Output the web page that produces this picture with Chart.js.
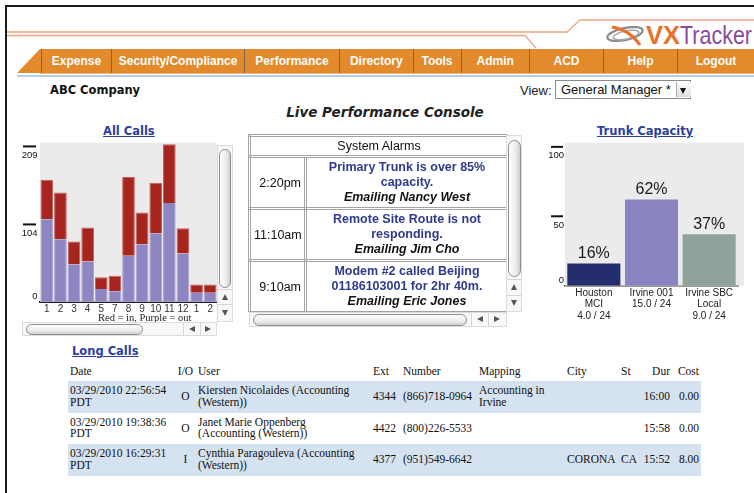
<!DOCTYPE html>
<html>
<head>
<meta charset="utf-8">
<script src="https://cdn.jsdelivr.net/npm/chart.js@4.4.1/dist/chart.umd.min.js"></script>
<style>
body{margin:0;width:754px;height:493px;overflow:hidden;background:#fff;position:relative;font-family:"Liberation Sans",Arial,sans-serif;color:#111}
.abs{position:absolute}
.nv{position:absolute;top:0;height:24px;line-height:24px;color:#fff;font-weight:bold;font-size:12px;text-align:center;border-left:1px solid #7d6450;box-sizing:border-box}
.lnk{position:absolute;font-family:"DejaVu Sans",Verdana,sans-serif;font-weight:bold;font-size:11.5px;color:#2b3f9e;text-decoration:underline;white-space:nowrap}
.track{position:absolute;background:#f8f8f8;border:1px solid #dcdcdc;box-sizing:border-box}
.thumbV,.thumbH{position:absolute;border:1px solid #8f8f8f;border-radius:7px;box-sizing:border-box}
.thumbV{background:linear-gradient(to right,#fff,#ececec 60%,#cfcfcf)}
.thumbH{background:linear-gradient(to bottom,#fff,#ececec 60%,#cfcfcf)}
.tri{position:absolute;width:0;height:0}
.up{border-left:3.5px solid transparent;border-right:3.5px solid transparent;border-bottom:6px solid #555}
.dn{border-left:3.5px solid transparent;border-right:3.5px solid transparent;border-top:6px solid #555}
.lt{border-top:3.5px solid transparent;border-bottom:3.5px solid transparent;border-right:6px solid #555}
.rt{border-top:3.5px solid transparent;border-bottom:3.5px solid transparent;border-left:6px solid #555}
.sep{position:absolute;background:#d6d6d6}
#alarms table{border-collapse:collapse;width:259px;table-layout:fixed;font-size:12.5px}
#alarms td{border:3px double #a4a4a4;padding:0 3px;background:#fff}
#alarms .tm{text-align:right}
#alarms .msg{text-align:center;line-height:15px;padding:0 1px}
#alarms .msg b{color:#2e3b8c}
#alarms .msg i{font-weight:bold;color:#111}
#long{font-family:"Liberation Serif","Times New Roman",serif;font-size:11.5px;line-height:11.5px;border-collapse:collapse;table-layout:fixed;width:633px;color:#111}
#long td{padding:0 2px;white-space:nowrap;vertical-align:middle}
#long tr.hd td{height:16px;vertical-align:bottom}
#long tr.r td{height:31.5px}
#long tr.b td{background:#d5e2ef}
</style>
</head>
<body>
<div class="abs" style="left:5px;top:5px;width:2px;height:488px;background:#1a1a1a"></div>
<div class="abs" style="left:5px;top:5px;width:749px;height:2px;background:#1a1a1a"></div>

<svg class="abs" style="left:0;top:0" width="754" height="80">
  <polyline points="7,32 567,32 580,20 754,20" fill="none" stroke="#eda784" stroke-width="1.3"/>
  <polyline points="7,35.5 525,35.5 536,48" fill="none" stroke="#eda784" stroke-width="1.3"/>
  <ellipse cx="625" cy="34" rx="18" ry="6" fill="none" stroke="#8a8a8a" stroke-width="2.2" transform="rotate(-12 625 34)"/>
  <ellipse cx="626" cy="35" rx="13" ry="4" fill="none" stroke="#a8a8a8" stroke-width="1.6" transform="rotate(-12 626 35)"/>
  <path d="M612,27 Q630,30 640,45" fill="none" stroke="#e8702a" stroke-width="3"/>
  <text x="646" y="43.5" font-family="Liberation Sans, Arial" font-weight="bold" font-size="25" fill="#e8702a" textLength="34" lengthAdjust="spacingAndGlyphs">VX</text>
  <text x="680" y="43.5" font-family="Liberation Sans, Arial" font-size="25" fill="#8c4a9c" textLength="72" lengthAdjust="spacingAndGlyphs">Tracker</text>
</svg>

<div class="abs" style="left:17px;top:49px;width:737px;height:24px;background:#e38a2c;clip-path:polygon(23px 0,100% 0,100% 100%,0 100%)">
  <div class="nv" style="left:24px;width:70px">Expense</div>
  <div class="nv" style="left:93.6px;width:134px">Security/Compliance</div>
  <div class="nv" style="left:227px;width:95px">Performance</div>
  <div class="nv" style="left:322px;width:73.5px">Directory</div>
  <div class="nv" style="left:395.5px;width:48px">Tools</div>
  <div class="nv" style="left:443.6px;width:68.4px">Admin</div>
  <div class="nv" style="left:512px;width:74px">ACD</div>
  <div class="nv" style="left:586px;width:74px">Help</div>
  <div class="nv" style="left:660px;width:77px">Logout</div>
</div>
<div class="abs" style="left:40px;top:73px;width:714px;height:1px;background:#f2b27a"></div>
<div class="abs" style="left:17px;top:74.5px;width:737px;height:2px;background:#b3cfea"></div>

<div class="abs" style="left:50px;top:83px;font-family:'DejaVu Sans',Verdana,sans-serif;font-weight:bold;font-size:11.5px">ABC Company</div>
<div class="abs" style="left:520px;top:83px;font-size:13px;color:#222">View:</div>
<div class="abs" style="left:555px;top:80px;width:136px;height:19px;border:1px solid #8a8a8a;box-sizing:border-box;background:#fff">
  <div class="abs" style="left:5px;top:1px;font-size:13px;color:#111;white-space:nowrap">General Manager *</div>
  <div class="abs" style="left:120px;top:1px;width:14px;height:15px;background:linear-gradient(#fff,#ddd);border-left:1px solid #aaa"></div>
  <div class="tri dn" style="left:124px;top:7px;border-top-color:#111"></div>
</div>

<div class="abs" style="left:200px;top:104px;width:370px;text-align:center;font-family:'DejaVu Sans',Verdana,sans-serif;font-weight:bold;font-style:italic;font-size:13.5px;color:#222">Live Performance Console</div>

<div class="lnk" style="left:103px;top:124px">All Calls</div>
<div class="lnk" style="left:597px;top:124px">Trunk Capacity</div>
<div class="lnk" style="left:72px;top:344px">Long Calls</div>

<!-- All Calls -->
<div class="abs" style="left:18px;top:138px;width:200px;height:184px;overflow:hidden">
  <canvas id="allCalls" width="200" height="180"></canvas>
  <div class="abs" style="left:80px;top:174px;font-family:'Liberation Serif','Times New Roman',serif;font-size:10.5px;color:#222;white-space:nowrap">Red = in, Purple = out</div>
</div>
<div class="track" style="left:217px;top:145px;width:16px;height:177px"></div>
<div class="thumbV" style="left:219px;top:149px;width:12px;height:139px"></div>
<div class="sep" style="left:218px;top:289px;width:14px;height:1px"></div>
<div class="sep" style="left:218px;top:304px;width:14px;height:1px"></div>
<div class="tri up" style="left:221.5px;top:294px"></div>
<div class="tri dn" style="left:221.5px;top:310px"></div>
<div class="track" style="left:22px;top:322px;width:195px;height:14px"></div>
<div class="thumbH" style="left:26px;top:323.5px;width:117px;height:11px"></div>
<div class="sep" style="left:183px;top:323px;width:1px;height:12px"></div>
<div class="sep" style="left:199.5px;top:323px;width:1px;height:12px"></div>
<div class="tri lt" style="left:189px;top:325.5px"></div>
<div class="tri rt" style="left:205px;top:325.5px"></div>

<!-- Alarms -->
<div class="abs" id="alarms" style="left:248px;top:134px;width:259px;height:178px;overflow:hidden">
<table>
  <colgroup><col style="width:56px"><col style="width:203px"></colgroup>
  <tr style="height:21px"><td colspan="2" style="text-align:center">System Alarms</td></tr>
  <tr style="height:52px"><td class="tm">2:20pm</td><td class="msg"><b>Primary Trunk is over 85%<br>capacity.</b><br><i>Emailing Nancy West</i></td></tr>
  <tr style="height:52px"><td class="tm">11:10am</td><td class="msg"><b>Remote Site Route is not<br>responding.</b><br><i>Emailing Jim Cho</i></td></tr>
  <tr style="height:52px"><td class="tm">9:10am</td><td class="msg"><b>Modem #2 called Beijing<br>01186103001 for 2hr 40m.</b><br><i>Emailing Eric Jones</i></td></tr>
</table>
</div>
<div class="track" style="left:506px;top:135px;width:16px;height:177px"></div>
<div class="thumbV" style="left:508px;top:140px;width:13px;height:137px"></div>
<div class="sep" style="left:507px;top:279px;width:14px;height:1px"></div>
<div class="sep" style="left:507px;top:295px;width:14px;height:1px"></div>
<div class="tri up" style="left:511px;top:284px"></div>
<div class="tri dn" style="left:511px;top:300px"></div>
<div class="track" style="left:249px;top:312px;width:258px;height:15px"></div>
<div class="thumbH" style="left:253px;top:313.5px;width:214px;height:12px"></div>
<div class="sep" style="left:471px;top:313px;width:1px;height:13px"></div>
<div class="sep" style="left:488px;top:313px;width:1px;height:13px"></div>
<div class="tri lt" style="left:477px;top:316px"></div>
<div class="tri rt" style="left:494px;top:316px"></div>

<!-- Trunk Capacity -->
<canvas id="trunk" class="abs" style="left:545px;top:138px" width="205" height="190"></canvas>

<!-- Long Calls -->
<table id="long" class="abs" style="left:68px;top:361px">
  <colgroup><col style="width:107px"><col style="width:21px"><col style="width:175px"><col style="width:30px"><col style="width:76px"><col style="width:88px"><col style="width:54px"><col style="width:22px"><col style="width:31px"><col style="width:29px"></colgroup>
  <tr class="hd"><td>Date</td><td style="text-align:center">I/O</td><td>User</td><td>Ext</td><td>Number</td><td>Mapping</td><td>City</td><td>St</td><td style="text-align:right">Dur</td><td style="text-align:right">Cost</td></tr>
  <tr style="height:4px"><td colspan="10"></td></tr>
  <tr class="r b"><td>03/29/2010 22:56:54<br>PDT</td><td style="text-align:center">O</td><td>Kiersten Nicolaides (Accounting<br>(Western))</td><td>4344</td><td>(866)718-0964</td><td>Accounting in<br>Irvine</td><td></td><td></td><td style="text-align:right">16:00</td><td style="text-align:right">0.00</td></tr>
  <tr class="r"><td>03/29/2010 19:38:36<br>PDT</td><td style="text-align:center">O</td><td>Janet Marie Oppenberg<br>(Accounting (Western))</td><td>4422</td><td>(800)226-5533</td><td></td><td></td><td></td><td style="text-align:right">15:58</td><td style="text-align:right">0.00</td></tr>
  <tr class="r b"><td>03/29/2010 16:29:31<br>PDT</td><td style="text-align:center">I</td><td>Cynthia Paragouleva (Accounting<br>(Western))</td><td>4377</td><td>(951)549-6642</td><td></td><td>CORONA</td><td>CA</td><td style="text-align:right">15:52</td><td style="text-align:right">8.00</td></tr>
</table>

<script>
// All Calls, by hour (no 6)
const hourLabels = ['1', '2', '3', '4', '5', '7', '8', '9', '10', '11', '12', '1', '2'];
const callsOut = [111, 84, 50, 54, 17, 14, 62, 77, 92, 133, 65, 12, 12];
const callsIn = [53, 63, 31, 46, 16, 21, 106, 43, 68, 79, 34, 11, 11];
const callTicks = [0, 104, 209];

// Trunk Capacity
const trunkNames = [['Houston', 'MCI', '4.0 / 24'], ['Irvine 001', '15.0 / 24'], ['Irvine SBC', 'Local', '9.0 / 24']];
const trunkPct = [16, 62, 37];
const trunkTicks = [0, 50, 100];

const FONT = '"Liberation Sans", Arial, sans-serif';

// gray plot background
const plotBg = {
    id: 'plotBg',
    beforeDatasetsDraw(chart, args, opts) {
        const a = chart.chartArea, c = chart.ctx;
        c.save();
        c.fillStyle = '#ebebeb';
        c.fillRect(a.left, a.top, a.right - a.left + (opts.extra || 0), a.bottom - a.top);
        c.restore();
    }
};

// short tick bars with the label hanging under them
const sideTicks = {
    id: 'sideTicks',
    afterDraw(chart, args, opts) {
        const y = chart.scales.y, c = chart.ctx;
        c.save();
        c.font = '9.5px ' + FONT;
        c.textAlign = 'right';
        c.textBaseline = 'middle';
        opts.values.forEach(v => {
            const py = y.getPixelForValue(v);
            c.fillStyle = '#111';
            if (v > 0) {
                c.fillRect(opts.x0, py - 1, opts.x1 - opts.x0, 2);
                c.fillText(String(v), opts.tx, py + 9);
            } else {
                c.fillText(String(v), opts.tx, py - 5);
            }
        });
        c.restore();
    }
};

// percentage over each trunk bar
const barValues = {
    id: 'barValues',
    afterDatasetsDraw(chart) {
        const c = chart.ctx;
        const meta = chart.getDatasetMeta(0);
        c.save();
        c.font = '16px ' + FONT;
        c.fillStyle = '#1a1a1a';
        c.textAlign = 'center';
        c.textBaseline = 'bottom';
        meta.data.forEach((bar, i) => {
            c.fillText(chart.data.datasets[0].data[i] + '%', bar.x, bar.y - 2);
        });
        c.restore();
    }
};

Chart.defaults.font.family = FONT;
Chart.defaults.animation = false;

new Chart(document.getElementById('allCalls'), {
    type: 'bar',
    data: {
        labels: hourLabels,
        datasets: [
            { label: 'Out', data: callsOut, backgroundColor: '#8d86c2', borderColor: '#a9a3d3', borderWidth: { left: 1, right: 1 }, borderSkipped: false },
            { label: 'In', data: callsIn, backgroundColor: '#a6251f', borderColor: '#c0605c', borderWidth: { left: 1, right: 1, top: 1 }, borderSkipped: false }
        ]
    },
    options: {
        responsive: false,
        events: [],
        layout: { padding: { top: 4.7, right: 1, left: 0, bottom: 0 } },
        barPercentage: 0.93,
        categoryPercentage: 1,
        plugins: {
            legend: { display: false },
            tooltip: { enabled: false },
            plotBg: { extra: 0 },
            sideTicks: { values: callTicks, x0: 5, x1: 18, tx: 19.5 }
        },
        scales: {
            x: {
                stacked: true,
                grid: { display: false, drawTicks: false },
                border: { display: true, color: '#1d1d3a', width: 2 },
                ticks: { color: '#333', font: { size: 10 }, padding: 2, autoSkip: false, maxRotation: 0 },
                afterFit: s => { s.height = 16.3; }
            },
            y: {
                stacked: true,
                min: 0,
                max: 214,
                grid: { display: false },
                border: { display: false },
                ticks: { display: false },
                afterFit: s => { s.width = 22; }
            }
        }
    },
    plugins: [plotBg, sideTicks]
});

new Chart(document.getElementById('trunk'), {
    type: 'bar',
    data: {
        labels: trunkNames,
        datasets: [{ data: trunkPct, backgroundColor: ['#242e6c', '#8b84c2', '#8fa39a'], borderWidth: 0 }]
    },
    options: {
        responsive: false,
        events: [],
        layout: { padding: { top: 4.7, right: 12, left: 0, bottom: 0 } },
        barPercentage: 0.92,
        categoryPercentage: 1,
        plugins: {
            legend: { display: false },
            tooltip: { enabled: false },
            plotBg: { extra: 6 },
            sideTicks: { values: trunkTicks, x0: 6, x1: 18, tx: 19 }
        },
        scales: {
            x: {
                grid: { display: false, drawTicks: false },
                border: { display: true, color: '#333', width: 1.5 },
                ticks: { color: '#222', font: { size: 10, lineHeight: 1.13 }, padding: 2, autoSkip: false, maxRotation: 0 },
                afterFit: s => { s.height = 42.3; }
            },
            y: {
                min: 0,
                max: 103,
                grid: { display: false },
                border: { display: false },
                ticks: { display: false },
                afterFit: s => { s.width = 20; }
            }
        }
    },
    plugins: [plotBg, sideTicks, barValues]
});
</script>
</body>
</html>
